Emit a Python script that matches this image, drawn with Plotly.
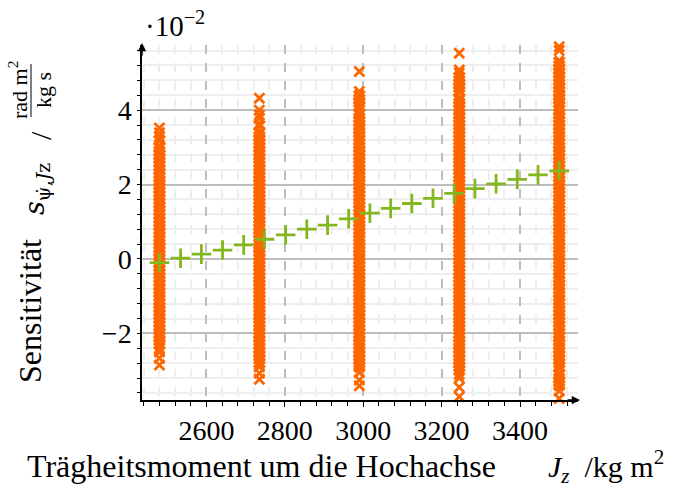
import plotly.graph_objects as go

# ---------------- data (sensitivity values in units of 1e-2) ----------------
JZ_LEVELS = [2480, 2735, 2990, 3245, 3500]

# dense body of each sample column
CORE_2480 = [-2.3, -2.2, -2.1, -2.0, -1.9, -1.8, -1.7, -1.6,
             -1.5, -1.4, -1.3, -1.2, -1.1, -1.0, -0.9, -0.8, -0.7, -0.6, -0.5, -0.4,
             -0.3, -0.2, -0.1, 0.0, 0.1, 0.2, 0.3, 0.4, 0.5, 0.6, 0.7, 0.8, 0.9, 1.0,
             1.1, 1.2, 1.3, 1.4, 1.5, 1.6, 1.7, 1.8, 1.9, 2.0, 2.1, 2.2, 2.3, 2.4, 2.5,
             2.6, 2.7, 2.8, 2.9, 3.0, 3.2]
CORE_2735 = [-2.8, -2.7, -2.6, -2.5, -2.4, -2.3, -2.2, -2.1, -2.0,
             -1.9, -1.8, -1.7, -1.6, -1.5, -1.4, -1.3, -1.2, -1.1, -1.0, -0.9, -0.8,
             -0.7, -0.6, -0.5, -0.4, -0.3, -0.2, -0.1, 0.0, 0.1, 0.2, 0.3, 0.4, 0.5,
             0.6, 0.7, 0.8, 0.9, 1.0, 1.1, 1.2, 1.3, 1.4, 1.5, 1.6, 1.7, 1.8, 1.9, 2.0,
             2.1, 2.2, 2.3, 2.4, 2.5, 2.6, 2.7, 2.8, 2.9, 3.0, 3.1, 3.2, 3.3, 3.4, 3.6]
CORE_2990 = [-2.9, -2.8, -2.7, -2.6, -2.5, -2.4, -2.3, -2.2, -2.1,
             -2.0, -1.9, -1.8, -1.7, -1.6, -1.5, -1.4, -1.3, -1.2, -1.1, -1.0, -0.9,
             -0.8, -0.7, -0.6, -0.5, -0.4, -0.3, -0.2, -0.1, 0.0, 0.1, 0.2, 0.3, 0.4,
             0.5, 0.6, 0.7, 0.8, 0.9, 1.0, 1.1, 1.2, 1.3, 1.4, 1.5, 1.6, 1.7, 1.8, 1.9,
             2.0, 2.1, 2.2, 2.3, 2.4, 2.5, 2.6, 2.7, 2.8, 2.9, 3.0, 3.1, 3.2, 3.3, 3.4,
             3.5, 3.6, 3.7, 3.8, 3.9, 4.1, 4.2, 4.3, 4.4]
CORE_3245 = [-3.0, -2.9, -2.8, -2.7, -2.6, -2.5, -2.4, -2.3,
             -2.2, -2.1, -2.0, -1.9, -1.8, -1.7, -1.6, -1.5, -1.4, -1.3, -1.2, -1.1,
             -1.0, -0.9, -0.8, -0.7, -0.6, -0.5, -0.4, -0.3, -0.2, -0.1, 0.0, 0.1, 0.2,
             0.3, 0.4, 0.5, 0.6, 0.7, 0.8, 0.9, 1.0, 1.1, 1.2, 1.3, 1.4, 1.5, 1.6, 1.7,
             1.8, 1.9, 2.0, 2.1, 2.2, 2.3, 2.4, 2.5, 2.6, 2.7, 2.8, 2.9, 3.0, 3.1, 3.2,
             3.3, 3.4, 3.5, 3.6, 3.7, 3.8, 3.9, 4.0, 4.1, 4.2, 4.3, 4.5, 4.6, 4.7, 4.8,
             4.9]
CORE_3500 = [-3.4, -3.3, -3.2, -3.1, -2.9, -2.8, -2.7, -2.6, -2.5,
             -2.4, -2.3, -2.2, -2.1, -2.0, -1.9, -1.8, -1.7, -1.6, -1.5, -1.4, -1.3,
             -1.2, -1.1, -1.0, -0.9, -0.8, -0.7, -0.6, -0.5, -0.4, -0.3, -0.2, -0.1,
             0.0, 0.1, 0.2, 0.3, 0.4, 0.5, 0.6, 0.7, 0.8, 0.9, 1.0, 1.1, 1.2, 1.3, 1.4,
             1.5, 1.6, 1.7, 1.8, 1.9, 2.0, 2.1, 2.2, 2.3, 2.4, 2.5, 2.6, 2.7, 2.8, 2.9,
             3.0, 3.1, 3.2, 3.3, 3.4, 3.5, 3.6, 3.7, 3.8, 3.9, 4.0, 4.1, 4.2, 4.3, 4.4,
             4.5, 4.6, 4.7, 4.8, 4.9, 5.0, 5.1, 5.2, 5.3]
CORES = [CORE_2480, CORE_2735, CORE_2990, CORE_3245, CORE_3500]

# isolated extreme samples of each column
OUT_2480 = [-2.85, -2.67, -2.5, -2.4, 3.28, 3.39, 3.52]
OUT_2735 = [-3.23, -3.07, -2.9, 3.78, 3.87, 4.0, 4.32]
OUT_2990 = [-3.41, -3.25, -3.05, 4.5, 5.04]
OUT_3245 = [-3.7, -3.45, -3.2, -3.1, 5.0, 5.08, 5.53]
OUT_3500 = [-3.85, -3.75, -3.55, 5.6, 5.7, 5.78, 5.84]
OUTLIERS = [OUT_2480, OUT_2735, OUT_2990, OUT_3245, OUT_3500]

JZ_NOMINAL = [2480, 2534, 2587, 2641, 2695, 2748, 2802, 2856, 2909, 2963,
              3017, 3070, 3124, 3178, 3232, 3285, 3339, 3393, 3446, 3500]
SENS_NOMINAL = [-0.1, 0.02, 0.13, 0.24, 0.38, 0.53, 0.65, 0.80, 0.91, 1.08,
                1.23, 1.36, 1.49, 1.63, 1.76, 1.89, 2.02, 2.14, 2.26, 2.37]

X_TICKS = [2600, 2800, 3000, 3200, 3400]
Y_TICKS = [-2, 0, 2, 4]

# ---------------- figure ----------------
W, H = 677, 489
L, R, T, B = 142, 99, 45, 89
PW, PH = W - L - R, H - T - B

def px(x):
    return (x - L) / PW

def py(y):
    return (H - B - y) / PH

ORANGE = "#ff6600"
GREEN = "#82b81e"
FONT = "Liberation Serif"

fig = go.Figure()

for jz, core, outs in zip(JZ_LEVELS, CORES, OUTLIERS):
    fig.add_trace(go.Scatter(
        x=[jz] * len(core), y=core, mode="markers", cliponaxis=False,
        marker=dict(symbol="x", size=11.5, color=ORANGE, line=dict(width=0)),
        showlegend=False, hoverinfo="skip"))
    fig.add_trace(go.Scatter(
        x=[jz] * len(outs), y=outs, mode="markers", cliponaxis=False,
        marker=dict(symbol="x-thin", size=10, color=ORANGE,
                    line=dict(color=ORANGE, width=2.8)),
        showlegend=False, hoverinfo="skip"))

fig.add_trace(go.Scatter(
    x=JZ_NOMINAL, y=SENS_NOMINAL, mode="markers", cliponaxis=False,
    marker=dict(symbol="cross-thin", size=14, color=GREEN,
                line=dict(color=GREEN, width=2.8)),
    showlegend=False, hoverinfo="skip"))

fig.update_layout(
    width=W, height=H,
    margin=dict(l=L, r=R, t=T, b=B, pad=0),
    paper_bgcolor="white", plot_bgcolor="white",
    font=dict(family=FONT, size=28, color="black"),
    xaxis=dict(
        range=[2435.5, 3548], tickvals=X_TICKS, ticktext=[str(v) for v in X_TICKS],
        showline=True, linecolor="black", linewidth=1.5,
        ticks="outside", ticklen=5, tickwidth=1.2, tickcolor="black",
        showgrid=True, gridcolor="#bdbdbd", gridwidth=1.5, griddash="dash",
        zeroline=False, tickfont=dict(family=FONT, size=28),
        minor=dict(dtick=40, tick0=2400, showgrid=True, gridcolor="#eeeeee",
                   gridwidth=2, ticks="outside", ticklen=4, tickcolor="black"),
    ),
    yaxis=dict(
        range=[-3.79, 5.75], tickvals=Y_TICKS,
        showline=True, linecolor="black", linewidth=1.5,
        ticks="outside", ticklen=3, tickwidth=1.2, tickcolor="black",
        showgrid=True, gridcolor="#bdbdbd", gridwidth=1.5,
        zeroline=False, tickfont=dict(family=FONT, size=28),
        minor=dict(dtick=0.4, tick0=0, showgrid=True, gridcolor="#eeeeee",
                   gridwidth=2, ticks="outside", ticklen=3, tickcolor="black"),
    ),
)

ann = []
# x-axis title
ann.append(dict(
    text="Trägheitsmoment um die Hochachse",
    x=px(498), y=py(466), xref="paper", yref="paper", showarrow=False,
    xanchor="right", yanchor="middle", font=dict(family=FONT, size=32)))
ann.append(dict(
    text="<i>J<sub>z</sub></i>&nbsp;&nbsp;/kg m<sup>2</sup>",
    x=px(546), y=py(466), xref="paper", yref="paper", showarrow=False,
    xanchor="left", yanchor="middle", font=dict(family=FONT, size=30)))
# y-axis title pieces
ann.append(dict(text="Sensitivität", x=px(30), y=py(311), xref="paper", yref="paper",
                showarrow=False, textangle=-90, xanchor="center", yanchor="middle",
                font=dict(family=FONT, size=32)))
ann.append(dict(text="<i>s</i><sub>ψ&#775;,<i>J</i>z</sub>", x=px(36), y=py(189),
                xref="paper", yref="paper", showarrow=False, textangle=-90,
                xanchor="center", yanchor="middle", font=dict(family="DejaVu Serif", size=27)))
ann.append(dict(text="/", x=px(40), y=py(136), xref="paper", yref="paper",
                showarrow=False, textangle=-90, xanchor="center", yanchor="middle",
                font=dict(family=FONT, size=30)))
ann.append(dict(text="rad m<sup>2</sup>", x=px(18), y=py(90), xref="paper", yref="paper",
                showarrow=False, textangle=-90, xanchor="center", yanchor="middle",
                font=dict(family=FONT, size=22)))
ann.append(dict(text="kg s", x=px(43), y=py(90), xref="paper", yref="paper",
                showarrow=False, textangle=-90, xanchor="center", yanchor="middle",
                font=dict(family=FONT, size=22)))
# exponent label
ann.append(dict(text="·10<sup>−2</sup>", x=px(143), y=py(24), xref="paper", yref="paper",
                showarrow=False, xanchor="left", yanchor="middle",
                font=dict(family=FONT, size=29)))
# axis arrows
ann.append(dict(text="", x=px(142), y=py(43), xref="paper", yref="paper",
                showarrow=True, ax=0, ay=14, axref="pixel", ayref="pixel",
                arrowhead=2, arrowsize=1.1, arrowwidth=1.5, arrowcolor="black"))
ann.append(dict(text="", x=px(580), y=py(400), xref="paper", yref="paper",
                showarrow=True, ax=-14, ay=0, axref="pixel", ayref="pixel",
                arrowhead=2, arrowsize=1.1, arrowwidth=1.5, arrowcolor="black"))
fig.update_layout(annotations=ann)

# fraction bar
fig.add_shape(type="line", xref="paper", yref="paper",
              x0=px(31), x1=px(31), y0=py(64), y1=py(117),
              line=dict(color="black", width=1))

fig.write_html("out.html")
